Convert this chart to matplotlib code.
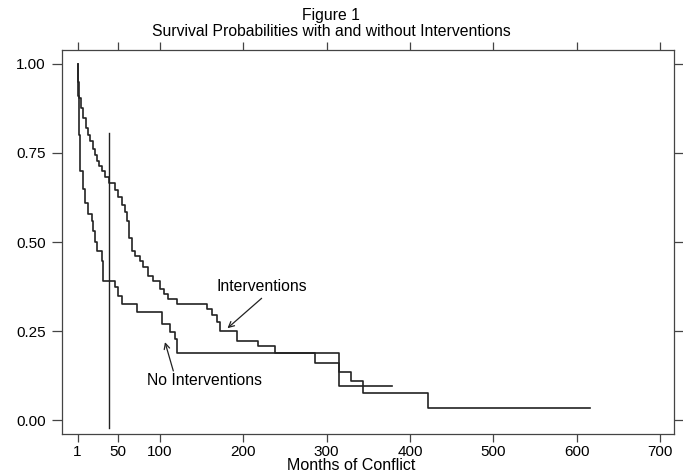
import matplotlib
matplotlib.use('Agg')
import matplotlib.pyplot as plt

# Kaplan-Meier style step curves (month of drop, survival after the drop)
int_months = [1, 2, 3, 5, 8, 11, 14, 16, 19, 22, 24, 27, 30, 34, 39, 46, 50, 54, 58, 61, 63, 66, 70, 76,
              80, 86, 92, 100, 105, 110, 120, 157, 162, 168, 172, 192, 218, 238, 315, 329, 344, 378]
int_surv = [1.0, 0.95, 0.905, 0.875, 0.849, 0.82, 0.80, 0.784, 0.76, 0.745, 0.727, 0.713, 0.699, 0.683,
            0.665, 0.645, 0.625, 0.605, 0.585, 0.56, 0.51, 0.475, 0.46, 0.447, 0.43, 0.405, 0.39, 0.369,
            0.355, 0.340, 0.326, 0.312, 0.295, 0.275, 0.250, 0.222, 0.208, 0.189, 0.134, 0.109, 0.095, 0.095]

noint_months = [1, 2, 3, 4, 7, 10, 14, 18, 20, 22, 24, 30, 32, 46, 50, 54, 72, 102, 112, 118, 120,
                286, 315, 344, 422, 616]
noint_surv = [1.0, 0.91, 0.80, 0.70, 0.65, 0.61, 0.58, 0.56, 0.53, 0.50, 0.476, 0.447, 0.391, 0.374,
              0.349, 0.326, 0.304, 0.270, 0.247, 0.227, 0.189, 0.160, 0.095, 0.075, 0.035, 0.035]

x_ticks = [1, 50, 100, 200, 300, 400, 500, 600, 700]
y_ticks = [0.0, 0.25, 0.5, 0.75, 1.0]
cutoff_month = 39

plt.rcParams['font.family'] = ['Liberation Sans', 'DejaVu Sans']
ink = '#222222'

fig = plt.figure(figsize=(6.83, 4.75), dpi=100)
ax = fig.add_axes([0.0908, 0.0863, 0.896, 0.8084])

ax.step(int_months, int_surv, where='post', color=ink, lw=1.2)
ax.step(noint_months, noint_surv, where='post', color=ink, lw=1.2)
ax.plot([cutoff_month, cutoff_month], [-0.023, 0.806], color=ink, lw=1.0)

# labels with arrows
ax.text(222, 0.376, 'Interventions', ha='center', va='center', fontsize=11.3)
ax.annotate('', xy=(181, 0.258), xytext=(222, 0.342),
            arrowprops=dict(arrowstyle='->', color=ink, lw=0.9, shrinkA=0, shrinkB=0))
ax.text(154, 0.110, 'No Interventions', ha='center', va='center', fontsize=11.3)
ax.annotate('', xy=(106, 0.219), xytext=(116, 0.138),
            arrowprops=dict(arrowstyle='->', color=ink, lw=0.9, shrinkA=0, shrinkB=0))

ax.set_xlim(-17.6, 717)
ax.set_ylim(-0.039, 1.039)
ax.set_xticks(x_ticks)
ax.set_yticks(y_ticks)
ax.set_yticklabels([f'{v:.2f}' for v in y_ticks])
ax.tick_params(direction='out', width=0.9, color='#444444', labelsize=11,
               top=True, right=True, labeltop=False, labelright=False)
ax.tick_params(axis='x', length=5.5, pad=2.5)
ax.tick_params(axis='y', length=7.2, pad=4.5)
for s in ax.spines.values():
    s.set_color('#444444')
    s.set_linewidth(0.9)

fig.text(0.514, 0.0105, 'Months of Conflict', ha='center', va='baseline', fontsize=11.5)
fig.text(0.485, 0.958, 'Figure 1', ha='center', va='baseline', fontsize=11.3)
fig.text(0.485, 0.924, 'Survival Probabilities with and without Interventions', ha='center',
         va='baseline', fontsize=11.3)

fig.savefig('out.png', dpi=100)
